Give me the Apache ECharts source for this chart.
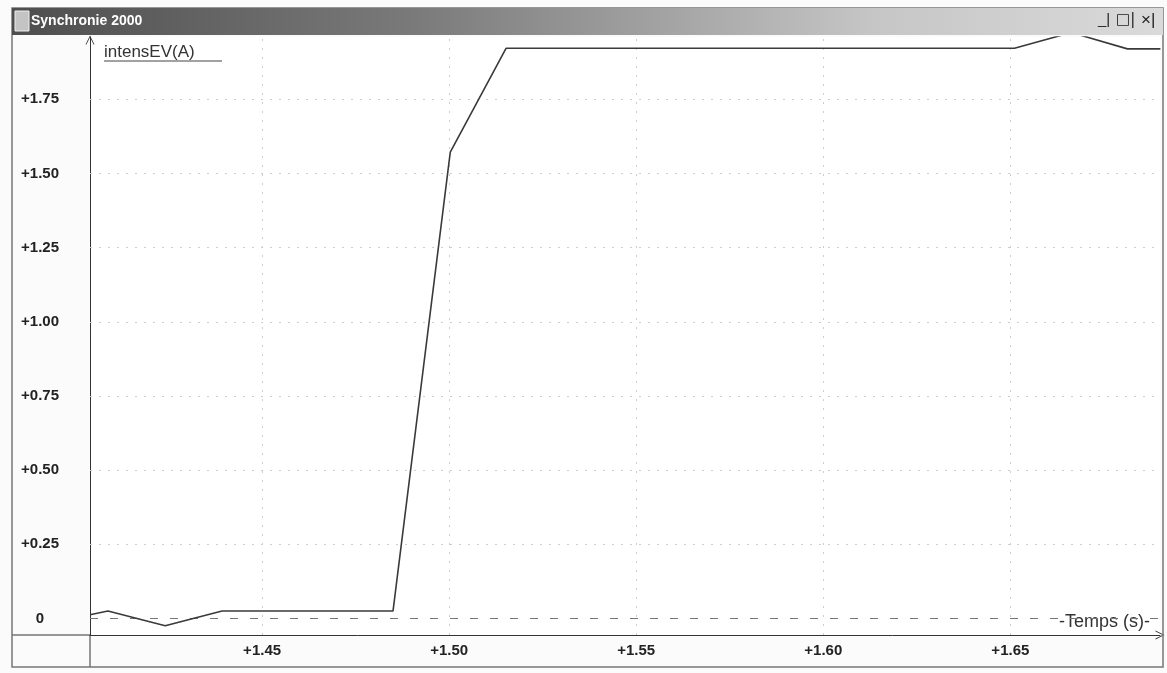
<!DOCTYPE html>
<html>
<head>
<meta charset="utf-8">
<script src="https://cdn.jsdelivr.net/npm/echarts@6/dist/echarts.min.js"></script>
<style>
html,body{margin:0;padding:0;background:#fbfbfb;}
#chart{width:1167px;height:673px;}
</style>
</head>
<body>
<div id="chart"></div>
<script>
// ---- data ----
const times = [1.4040, 1.4088, 1.4241, 1.4393, 1.4850, 1.5003, 1.5152, 1.6511, 1.6663, 1.6813, 1.6901];
const intens = [0.012, 0.025, -0.025, 0.025, 0.025, 1.572, 1.922, 1.922, 1.975, 1.920, 1.920];
const yTicks = [0, 0.25, 0.5, 0.75, 1.0, 1.25, 1.5, 1.75];
const xTicks = [1.45, 1.50, 1.55, 1.60, 1.65];
const xRange = [1.404, 1.690];
const yRange = [-0.056, 1.96];
const windowTitle = 'Synchronie 2000';
const yName = 'intensEV(A)';
const xName = '-Temps (s)-';

const chart = echarts.init(document.getElementById('chart'));
const fmt = v => (v === 0 ? '0' : '+' + v.toFixed(2));
const gridDotted = {color: '#cdcdcd', width: 1, type: [2, 7]};
const chevron = 'path://M0,10 L5,0 L10,10 L9,10 L5,2 L1,10 Z';

const option = {
  backgroundColor: '#fbfbfb',
  animation: false,
  grid: {left: 90, right: 7, top: 37, bottom: 38, show: true, backgroundColor: '#ffffff', borderWidth: 0},
  xAxis: {
    type: 'value', min: xRange[0], max: xRange[1],
    axisLine: {show: true, onZero: false, lineStyle: {color: '#333', width: 1},
      symbol: ['none', chevron], symbolSize: [10, 9]},
    axisTick: {show: false},
    splitLine: {show: false},
    axisLabel: {customValues: xTicks, formatter: fmt, margin: 8,
      fontFamily: 'Liberation Sans, Arial', fontWeight: 'bold', fontSize: 15, color: '#222'},
    name: xName, nameLocation: 'end', nameGap: -10,
    nameTextStyle: {align: 'right', verticalAlign: 'bottom', padding: [0, 0, 4, 0],
      fontFamily: 'Liberation Sans, Arial', fontSize: 18, color: '#333', backgroundColor: '#ffffff'}
  },
  yAxis: {
    type: 'value', min: yRange[0], max: yRange[1],
    axisLine: {show: true, lineStyle: {color: '#333', width: 1},
      symbol: ['none', chevron], symbolSize: [10, 9], symbolOffset: [0, -3]},
    axisTick: {show: false},
    splitLine: {show: false},
    axisLabel: {customValues: yTicks, formatter: fmt, margin: 50, align: 'center',
      fontFamily: 'Liberation Sans, Arial', fontWeight: 'bold', fontSize: 15, color: '#222'},
    name: yName, nameLocation: 'end', nameGap: -15,
    nameTextStyle: {align: 'left', verticalAlign: 'middle', padding: [0, 0, 0, 14],
      fontFamily: 'Liberation Sans, Arial', fontSize: 17, color: '#333'}
  },
  series: [
    {
      type: 'line', data: [], silent: true,
      markLine: {silent: true, symbol: ['none', 'none'], label: {show: false}, animation: false,
        lineStyle: gridDotted,
        data: yTicks.filter(v => v !== 0).map(v => ({yAxis: v}))
          .concat(xTicks.map(v => ({xAxis: v})))}
    },
    {
      type: 'line', data: [], silent: true,
      markLine: {silent: true, symbol: ['none', 'none'], label: {show: false}, animation: false,
        lineStyle: {color: '#777', width: 1.2, type: [8, 12]},
        data: [{yAxis: 0}]}
    },
    {
      type: 'line', name: yName,
      data: times.map((t, i) => [t, intens[i]]),
      showSymbol: false, clip: true,
      lineStyle: {color: '#3a3a3a', width: 1.6},
      z: 5
    }
  ],
  graphic: [
    // window frame
    {type: 'rect', shape: {x: 12, y: 8, width: 1151, height: 659}, style: {fill: 'none', stroke: '#777', lineWidth: 1.5}, z: 100},
    // title bar
    {type: 'rect', shape: {x: 12, y: 8, width: 1151, height: 27},
      style: {fill: new echarts.graphic.LinearGradient(0, 0, 1, 0, [
        {offset: 0, color: '#4e4e4e'}, {offset: 0.35, color: '#7a7a7a'},
        {offset: 0.75, color: '#c6c6c6'}, {offset: 1, color: '#dadada'}])}, z: 100},
    {type: 'rect', shape: {x: 15, y: 11, width: 14, height: 20}, style: {fill: '#c4c4c4', stroke: '#eee', lineWidth: 1}, z: 101},
    {type: 'text', x: 31, y: 21, style: {text: windowTitle, fill: '#ffffff', font: 'bold 14px "Liberation Sans", Arial', textVerticalAlign: 'middle'}, z: 101},
    {type: 'text', x: 1098, y: 20, style: {text: '_|', fill: '#222', font: '15px "Liberation Sans", Arial', textVerticalAlign: 'middle'}, z: 101},
    {type: 'text', x: 1116, y: 20, style: {text: '□|', fill: '#222', font: '15px "DejaVu Sans", Arial', textVerticalAlign: 'middle'}, z: 101},
    {type: 'text', x: 1141, y: 20, style: {text: '×|', fill: '#222', font: '17px "Liberation Sans", Arial', textVerticalAlign: 'middle'}, z: 101},
    // axis extensions to window edges
    {type: 'line', shape: {x1: 90, y1: 635, x2: 90, y2: 667}, style: {stroke: '#333', lineWidth: 1}, z: 50},
    {type: 'line', shape: {x1: 12, y1: 635, x2: 90, y2: 635}, style: {stroke: '#333', lineWidth: 1}, z: 50},
    // underline of the y-axis name
    {type: 'line', shape: {x1: 104, y1: 61, x2: 222, y2: 61}, style: {stroke: '#444', lineWidth: 1}, z: 50}
  ]
};
chart.setOption(option);
</script>
</body>
</html>
